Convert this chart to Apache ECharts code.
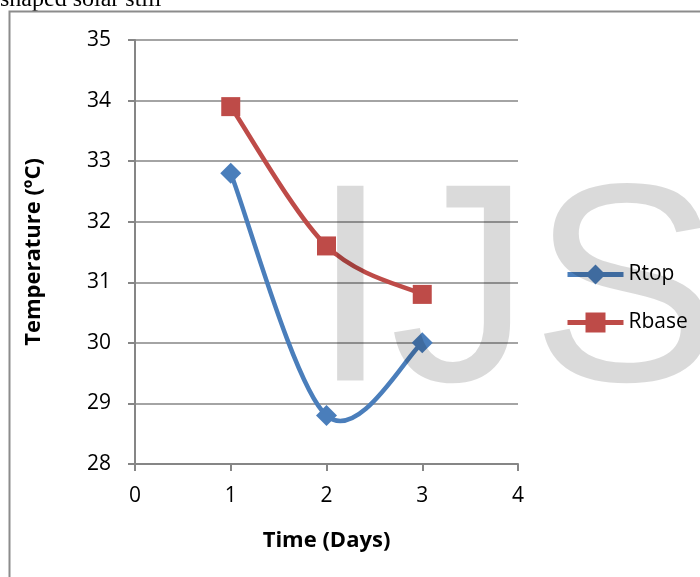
<!DOCTYPE html>
<html>
<head>
<meta charset="utf-8">
<script src="https://cdn.jsdelivr.net/npm/echarts@6/dist/echarts.min.js"></script>
<style>
  html, body { margin: 0; padding: 0; background: #fff; }
  #chart { width: 700px; height: 577px; }
</style>
</head>
<body>
<div id="chart"></div>
<script>
const days = [1, 2, 3];
const rtop = [32.8, 28.8, 30.0];
const rbase = [33.9, 31.6, 30.8];
const seriesNames = ['Rtop', 'Rbase'];

const toPairs = vals => days.map((d, i) => [d, vals[i]]);

const chart = echarts.init(document.getElementById('chart'));
const axisGray = '#868686';
const blue = '#4a7ebb';
const red = '#be4b48';
const font = '"Open Sans", "Liberation Sans", sans-serif';

// spreadsheet-style smoothing (catmull-rom, 1/6 tangents) drawn in pixel space
const smoothCurve = (vals, color) => ({
  type: 'custom',
  name: 'curve',
  data: toPairs(vals),
  encode: { x: 0, y: 1 },
  z: 2,
  silent: true,
  renderItem: (params, api) => {
    if (params.dataIndex !== 0) return null;
    const p = toPairs(vals).map(v => api.coord(v));
    let d = 'M' + p[0][0] + ' ' + p[0][1];
    for (let i = 0; i < p.length - 1; i++) {
      const p0 = p[i - 1] || p[i];
      const p1 = p[i];
      const p2 = p[i + 1];
      const p3 = p[i + 2] || p2;
      const c1 = [p1[0] + (p2[0] - p0[0]) / 6, p1[1] + (p2[1] - p0[1]) / 6];
      const c2 = [p2[0] - (p3[0] - p1[0]) / 6, p2[1] - (p3[1] - p1[1]) / 6];
      d += ' C' + c1.join(' ') + ' ' + c2.join(' ') + ' ' + p2.join(' ');
    }
    return {
      type: 'path',
      shape: { pathData: d },
      style: { fill: 'none', stroke: color, lineWidth: 4.5, lineJoin: 'round', lineCap: 'round' }
    };
  }
});

chart.setOption({
  animation: false,
  textStyle: { fontFamily: font },
  graphic: [
    {
      type: 'text', left: 0, top: -12, z: 0,
      style: { text: 'shaped solar still', font: '24px "Liberation Serif", serif', fill: '#000' }
    },
    {
      type: 'rect', z: 0,
      shape: { x: 9.5, y: 11.5, width: 700, height: 600 },
      style: { fill: 'none', stroke: '#8c8c8c', lineWidth: 2 }
    },
    // watermark, drawn semi-transparent over the plot
    {
      type: 'text', x: 311, y: 161, z: 100, silent: true,
      style: { text: 'IJS', font: '283px "Liberation Sans", sans-serif', fill: 'rgba(0,0,0,0.145)' }
    }
  ],
  legend: {
    orient: 'vertical',
    left: 565,
    top: 264,
    padding: 0,
    itemWidth: 56,
    itemHeight: 25,
    itemGap: 27,
    textStyle: { fontSize: 21, color: '#000', fontFamily: font },
    data: [
      { name: seriesNames[0], lineStyle: { width: 5, opacity: 1 } },
      { name: seriesNames[1], lineStyle: { width: 5, opacity: 1 } }
    ]
  },
  grid: { left: 135, right: 182, top: 40, bottom: 113 },
  xAxis: {
    type: 'value',
    min: 0, max: 4, interval: 1,
    name: 'Time (Days)',
    nameLocation: 'middle',
    nameGap: 66,
    nameTextStyle: { fontSize: 22, fontWeight: 'bold', color: '#000' },
    axisLine: { lineStyle: { color: axisGray, width: 2 } },
    axisTick: { show: true, length: 7, lineStyle: { color: axisGray, width: 2 } },
    axisLabel: { fontSize: 21, color: '#000', margin: 22 },
    splitLine: { show: false }
  },
  yAxis: {
    type: 'value',
    min: 28, max: 35, interval: 1,
    name: 'Temperature (ºC)',
    nameLocation: 'middle',
    nameGap: 90,
    nameTextStyle: { fontSize: 22, fontWeight: 'bold', color: '#000' },
    axisLine: { show: true, lineStyle: { color: axisGray, width: 2 } },
    axisTick: { show: true, length: 7, lineStyle: { color: axisGray, width: 2 } },
    axisLabel: { fontSize: 21, color: '#000', margin: 24 },
    splitLine: { lineStyle: { color: axisGray, width: 1.5 } }
  },
  series: [
    smoothCurve(rtop, blue),
    smoothCurve(rbase, red),
    {
      name: seriesNames[0],
      type: 'line',
      data: toPairs(rtop),
      symbol: 'diamond',
      symbolSize: 21,
      lineStyle: { color: blue, width: 5, opacity: 0 },
      itemStyle: { color: blue },
      z: 3
    },
    {
      name: seriesNames[1],
      type: 'line',
      data: toPairs(rbase),
      symbol: 'rect',
      symbolSize: 19,
      lineStyle: { color: red, width: 5, opacity: 0 },
      itemStyle: { color: red },
      z: 3
    }
  ]
});
</script>
</body>
</html>
